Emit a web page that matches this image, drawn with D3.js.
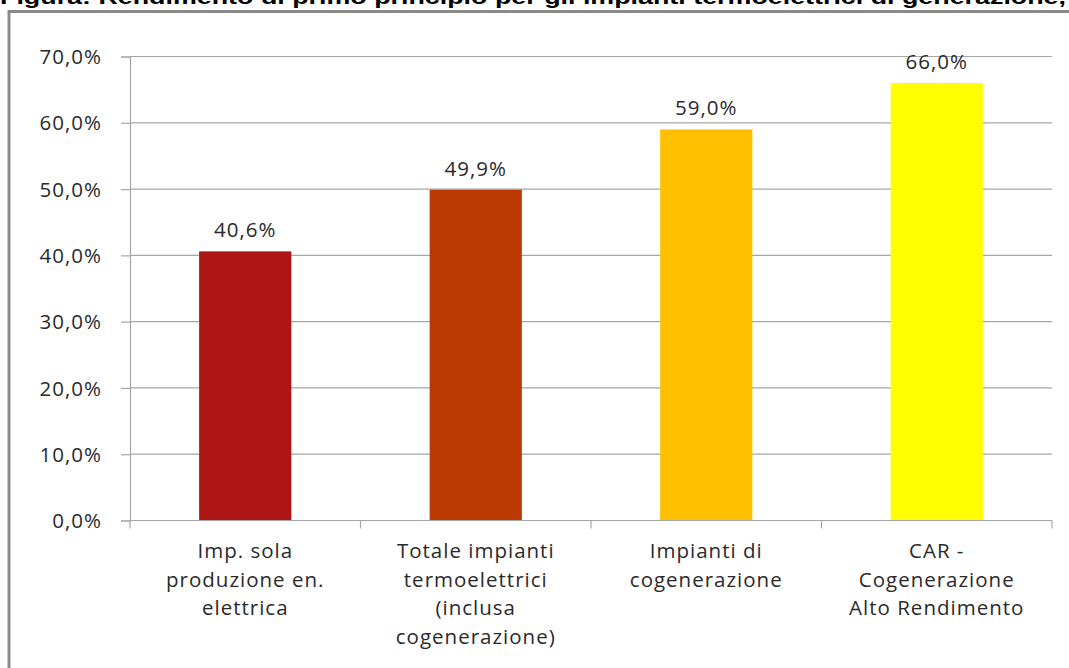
<!DOCTYPE html>
<html>
<head>
<meta charset="utf-8">
<script src="https://cdn.jsdelivr.net/npm/d3@7"></script>
<style>
  html, body { margin: 0; padding: 0; background: #fff; overflow: hidden; }
  svg { display: block; }
  .lbl { font-family: "Open Sans", sans-serif; font-size: 20.5px; fill: #2a2a2a; letter-spacing: 1px; }
</style>
</head>
<body>
<svg id="chart" width="1069" height="668"></svg>
<script>
// Rendimento di primo principio per tipologia di impianto
const categories = [
  ["Imp. sola", "produzione en.", "elettrica"],
  ["Totale impianti", "termoelettrici", "(inclusa", "cogenerazione)"],
  ["Impianti di", "cogenerazione"],
  ["CAR -", "Cogenerazione", "Alto Rendimento"]
];
const values = [0.406, 0.499, 0.590, 0.660];
const barColors = ["#AE1616", "#BC3904", "#FFC000", "#FFFF00"];
const yTicks = [0, 0.1, 0.2, 0.3, 0.4, 0.5, 0.6, 0.7];
const titleText = "Figura: Rendimento di primo principio per gli impianti termoelettrici di generazione,";

const svg = d3.select("#chart");
const W = 1069, H = 668;
const plot = { left: 130, right: 1052, top: 56.5, bottom: 520.5 };

const fmt = v => d3.format(".1f")(v * 100).replace(".", ",") + "%";

// Frame around the chart
svg.append("rect")
  .attr("x", 9).attr("y", 11.5)
  .attr("width", W + 20).attr("height", H + 20)
  .attr("fill", "none").attr("stroke", "#8a8a8a").attr("stroke-width", 3);

// Heading above the frame
svg.append("text")
  .attr("x", 0).attr("y", 4)
  .attr("textLength", 1066).attr("lengthAdjust", "spacingAndGlyphs")
  .style("font-family", "'Liberation Sans', Arial, sans-serif")
  .style("font-weight", "bold").style("font-size", "20px").style("fill", "#000")
  .text(titleText);

const x = d3.scaleBand()
  .domain(d3.range(categories.length))
  .range([plot.left, plot.right])
  .padding(0);

const y = d3.scaleLinear().domain([0, 0.7]).range([plot.bottom, plot.top]);

// Horizontal gridlines
svg.append("g").selectAll("line").data(yTicks.slice(1)).join("line")
  .attr("x1", plot.left).attr("x2", plot.right)
  .attr("y1", d => y(d)).attr("y2", d => y(d))
  .attr("stroke", "#a6a6a6").attr("stroke-width", 1.2);

// Y axis
const yAxis = svg.append("g")
  .attr("transform", `translate(${plot.left},0)`)
  .call(d3.axisLeft(y).tickValues(yTicks).tickFormat(fmt).tickSize(9).tickPadding(20));
yAxis.select(".domain").attr("stroke", "#a6a6a6").attr("stroke-width", 1.2);
yAxis.selectAll(".tick line").attr("stroke", "#a6a6a6").attr("stroke-width", 1.2);
yAxis.selectAll(".tick text").attr("class", "lbl").attr("dy", "0.35em").attr("x", -28);

// Bars
const barW = x.bandwidth() * 0.4;
svg.append("g").selectAll("rect").data(values).join("rect")
  .attr("x", (d, i) => x(i) + (x.bandwidth() - barW) / 2)
  .attr("y", d => y(d))
  .attr("width", barW)
  .attr("height", d => y(0) - y(d))
  .attr("fill", (d, i) => barColors[i]);

// X axis with ticks at category boundaries
const xg = svg.append("g");
xg.append("line")
  .attr("x1", plot.left).attr("x2", plot.right)
  .attr("y1", y(0)).attr("y2", y(0))
  .attr("stroke", "#a6a6a6").attr("stroke-width", 1.2);
const bounds = d3.range(categories.length + 1).map(i => plot.left + i * x.step());
xg.selectAll("line.tk").data(bounds).join("line").attr("class", "tk")
  .attr("x1", d => d).attr("x2", d => d)
  .attr("y1", y(0)).attr("y2", y(0) + 8)
  .attr("stroke", "#a6a6a6").attr("stroke-width", 1.2);

// Category labels
const catG = svg.append("g").selectAll("text").data(categories).join("text")
  .attr("class", "lbl")
  .attr("text-anchor", "middle");
catG.selectAll("tspan").data((d, i) => d.map(s => ({ s, i }))).join("tspan")
  .attr("x", d => x(d.i) + x.bandwidth() / 2)
  .attr("y", (d, j) => 558 + j * 28.5)
  .text(d => d.s);

// Value labels
svg.append("g").selectAll("text").data(values).join("text")
  .attr("class", "lbl")
  .attr("text-anchor", "middle")
  .attr("x", (d, i) => x(i) + x.bandwidth() / 2)
  .attr("y", d => y(d) - 14)
  .text(fmt);
</script>
</body>
</html>
